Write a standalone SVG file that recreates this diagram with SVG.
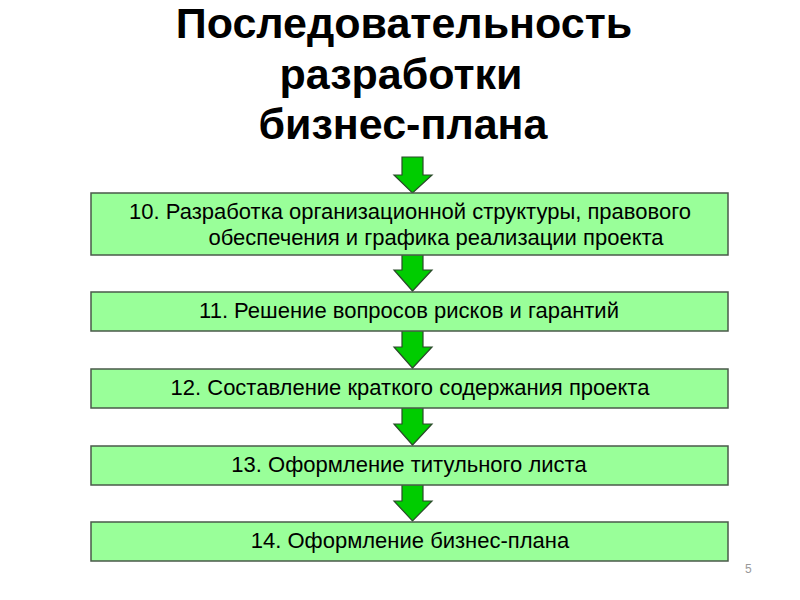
<svg xmlns="http://www.w3.org/2000/svg" width="800" height="600" viewBox="0 0 800 600">
<style>
.title{font-family:"Liberation Sans",Arial,sans-serif;font-weight:bold;font-size:43px;fill:#000;text-anchor:middle}
.box{fill:#99FF99;stroke:#4a5a4a;stroke-width:1.5}
.lbl{font-family:"Liberation Sans",Arial,sans-serif;font-size:22px;fill:#000;text-anchor:middle}
.arr{fill:#00CC00;stroke:#2a4a2a;stroke-width:1.2;stroke-linejoin:miter}
.pg{font-family:"Liberation Sans",Arial,sans-serif;font-size:12px;fill:#999}
</style>
<rect width="800" height="600" fill="#fff"/>
<g id="title">
<text class="title" x="404" y="38">Последовательность</text>
<text class="title" x="401" y="89">разработки</text>
<text class="title" x="403" y="139">бизнес-плана</text>
</g>
<g id="connectors">
<path class="arr" d="M402,157 H423 V175 H432 L412.5,193 L394,175 H402 Z"/>
<path class="arr" d="M402,251 H423 V270 H432 L412.5,291 L394,270 H402 Z"/>
<path class="arr" d="M402,328 H423 V347 H432 L412.5,368 L394,347 H402 Z"/>
<path class="arr" d="M402,405 H423 V424 H432 L412.5,445 L394,424 H402 Z"/>
<path class="arr" d="M402,482 H423 V501 H432 L412.5,521 L394,501 H402 Z"/>
</g>
<g id="n10">
<rect class="box" x="91" y="193" width="637" height="62"/>
<text class="lbl" x="410" y="219">10. Разработка организационной структуры, правового</text>
<text class="lbl" x="436" y="245">обеспечения и графика реализации проекта</text>
</g>
<g id="n11">
<rect class="box" x="91" y="292" width="637" height="39"/>
<text class="lbl" x="409" y="318">11. Решение вопросов рисков и гарантий</text>
</g>
<g id="n12">
<rect class="box" x="91" y="369" width="637" height="39"/>
<text class="lbl" x="410" y="395">12. Составление краткого содержания проекта</text>
</g>
<g id="n13">
<rect class="box" x="91" y="446" width="637" height="39"/>
<text class="lbl" x="409" y="472">13. Оформление титульного листа</text>
</g>
<g id="n14">
<rect class="box" x="91" y="522" width="637" height="39"/>
<text class="lbl" x="410" y="548">14. Оформление бизнес-плана</text>
</g>
<text class="pg" x="745" y="573">5</text>
</svg>
